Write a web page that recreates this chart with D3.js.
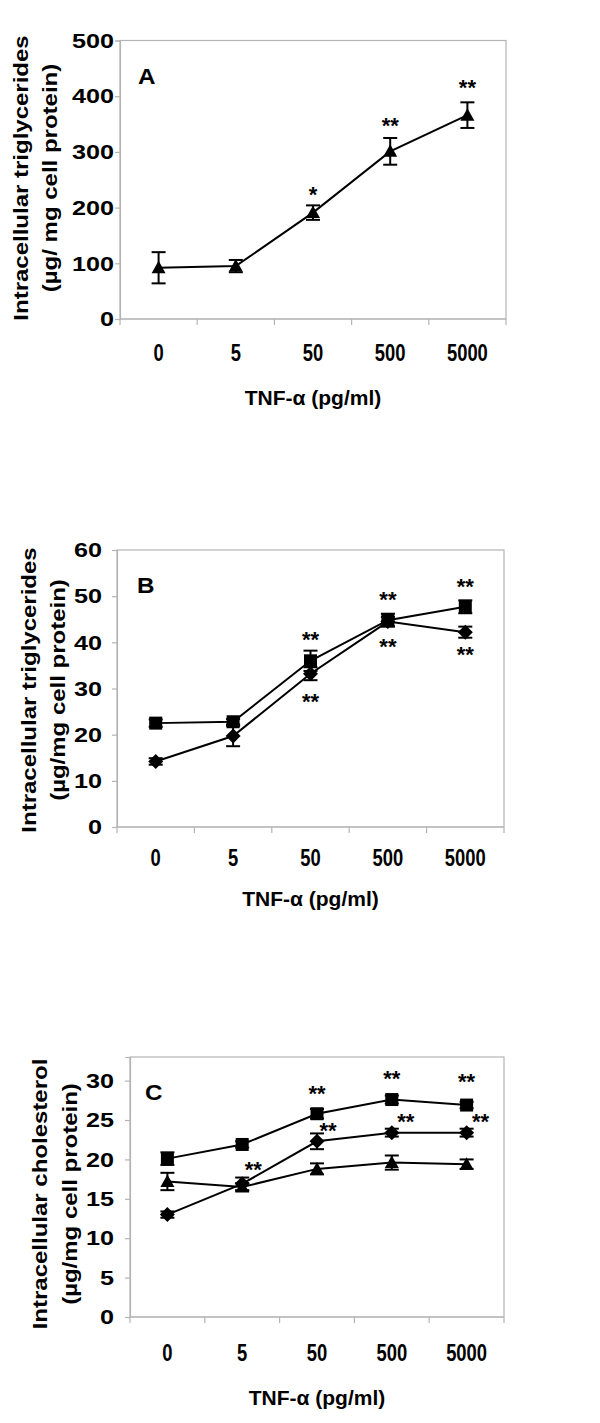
<!DOCTYPE html>
<html>
<head>
<meta charset="utf-8">
<script src="https://cdn.jsdelivr.net/npm/d3@7"></script>
<style>
  html, body { margin: 0; padding: 0; background: #fff; }
  svg { display: block; }
  text { font-family: "Liberation Sans", Arial, sans-serif; font-weight: bold; fill: #000; }
</style>
</head>
<body>
<svg id="chart" width="600" height="1423"></svg>
<script>
// ---------------- DATA ----------------
const categories = ["0", "5", "50", "500", "5000"];

// Panel A: intracellular triglycerides (µg/mg cell protein), triangles
const aTriangle    = [92, 95, 191, 301, 366];
const aTriangleErr = [28, 11, 13, 24, 23];
const aTicks = [0, 100, 200, 300, 400, 500];

// Panel B: intracellular triglycerides, squares and diamonds
const bSquare     = [22.5, 22.8, 36.0, 44.8, 47.7];
const bSquareErr  = [0.8, 0.6, 2.2, 1.4, 1.4];
const bDiamond    = [14.2, 19.7, 33.2, 44.5, 42.2];
const bDiamondErr = [0.7, 2.2, 1.4, 1.0, 1.2];
const bTicks = [0, 10, 20, 30, 40, 50, 60];

// Panel C: intracellular cholesterol, squares, diamonds, triangles
const cSquare      = [20.1, 21.9, 25.8, 27.6, 26.9];
const cSquareErr   = [0.8, 0.4, 0.6, 0.5, 0.4];
const cDiamond     = [13.0, 16.9, 22.3, 23.4, 23.4];
const cDiamondErr  = [0.4, 0.8, 1.0, 0.5, 0.5];
const cTriangle    = [17.2, 16.5, 18.8, 19.6, 19.4];
const cTriangleErr = [1.1, 0.5, 0.7, 0.9, 0.6];
const cTicks = [0, 5, 10, 15, 20, 25, 30];

// Significance marks: [category, value where the mark is centred, horizontal shift, text]
const aStars = [["50", 232, 0, "*"], ["500", 355, 0, "**"], ["5000", 424, 0, "**"]];
const bStars = [["50", 41.6, 0, "**"], ["50", 28.2, 0, "**"], ["500", 50.2, 0, "**"], ["500", 40.1, 0, "**"],
                ["5000", 53.1, 0, "**"], ["5000", 38.3, 0, "**"]];
const cStars = [["50", 28.9, 0, "**"], ["500", 30.8, 0, "**"], ["5000", 30.4, 0, "**"],
                ["5", 19.3, 11, "**"], ["50", 24.2, 11, "**"], ["500", 25.4, 14, "**"], ["5000", 25.4, 14, "**"]];

const xTitle = "TNF-\u03b1 (pg/ml)";

// ---------------- LAYOUT ----------------
const panels = [
  { letter: "A", left: 120, right: 506, top: 40.5, bottom: 319, yMax: 500, ticks: aTicks,
    yLabelGap: 6, xLabelDy: 34, xTitleDy: 78, letterPos: [138, 76],
    yTitle: ["Intracellular triglycerides", "(\u00b5g/ mg cell protein)"], yTitleX: [21, 50], yTitleY: 178,
    series: [{ vals: aTriangle, err: aTriangleErr, shape: "triangle" }], stars: aStars },
  { letter: "B", left: 117, right: 504, top: 550, bottom: 827, yMax: 60, ticks: bTicks,
    yLabelGap: 15, xLabelDy: 31, xTitleDy: 71, letterPos: [137, 585],
    yTitle: ["Intracellular triglycerides", "(\u00b5g/mg cell protein)"], yTitleX: [29, 58], yTitleY: 690,
    series: [{ vals: bDiamond, err: bDiamondErr, shape: "diamond" },
             { vals: bSquare, err: bSquareErr, shape: "square" }], stars: bStars },
  { letter: "C", left: 130, right: 504, top: 1057, bottom: 1317, yMax: 33, ticks: cTicks,
    yLabelGap: 16, xLabelDy: 36, xTitleDy: 80, letterPos: [145, 1092],
    yTitle: ["Intracellular cholesterol", "(\u00b5g/mg cell protein)"], yTitleX: [40, 70], yTitleY: 1194,
    series: [{ vals: cTriangle, err: cTriangleErr, shape: "triangle" },
             { vals: cDiamond, err: cDiamondErr, shape: "diamond" },
             { vals: cSquare, err: cSquareErr, shape: "square" }], stars: cStars }
];

const svg = d3.select("#chart");
const gridGray = "#b4b4b4";

function markerPath(shape) {
  if (shape === "triangle") return "M0,-7L7,5.5L-7,5.5Z";
  if (shape === "square") return "M-6.5,-6.5H6.5V6.5H-6.5Z";
  return "M0,-7.5L7.5,0L0,7.5L-7.5,0Z";
}

panels.forEach(p => {
  const g = svg.append("g");
  const x = d3.scaleBand().domain(categories).range([p.left, p.right]).padding(0);
  const y = d3.scaleLinear().domain([0, p.yMax]).range([p.bottom, p.top]);
  const cx = c => x(c) + x.bandwidth() / 2;

  // plot box
  g.append("rect").attr("x", p.left).attr("y", p.top)
    .attr("width", p.right - p.left).attr("height", p.bottom - p.top)
    .attr("fill", "none").attr("stroke", gridGray).attr("stroke-width", 1.2);

  // y axis ticks
  const yAxis = d3.axisLeft(y).tickValues(p.ticks).tickSize(5).tickFormat("");
  const ya = g.append("g").attr("transform", `translate(${p.left},0)`).call(yAxis);
  ya.select(".domain").attr("stroke", gridGray).attr("stroke-width", 1.2);
  ya.selectAll(".tick line").attr("stroke", gridGray).attr("stroke-width", 1.2);

  // y tick labels
  g.selectAll(".ylab").data(p.ticks).join("text")
    .attr("transform", d => `translate(${p.left - p.yLabelGap},${y(d)}) scale(1.2,1)`)
    .attr("text-anchor", "end").attr("dominant-baseline", "central")
    .attr("font-size", 21).text(d => d);

  // x axis ticks at category boundaries
  const bounds = categories.map(c => x(c)).concat([p.right]);
  g.append("line").attr("x1", p.left).attr("x2", p.right).attr("y1", p.bottom).attr("y2", p.bottom)
    .attr("stroke", gridGray).attr("stroke-width", 1.2);
  g.selectAll(".xt").data(bounds).join("line")
    .attr("x1", d => d).attr("x2", d => d).attr("y1", p.bottom).attr("y2", p.bottom + 6)
    .attr("stroke", gridGray).attr("stroke-width", 1.2);

  // x tick labels
  g.selectAll(".xlab").data(categories).join("text")
    .attr("transform", d => `translate(${cx(d)},${p.bottom + p.xLabelDy}) scale(0.8,1)`)
    .attr("text-anchor", "middle").attr("dominant-baseline", "central")
    .attr("font-size", 23).text(d => d);

  // x title
  g.append("text")
    .attr("x", (p.left + p.right) / 2).attr("y", p.bottom + p.xTitleDy)
    .attr("text-anchor", "middle").attr("dominant-baseline", "central")
    .attr("font-size", 21).text(xTitle);

  // y title (two lines)
  p.yTitle.forEach((t, i) => {
    g.append("text")
      .attr("transform", `translate(${p.yTitleX[i]},${p.yTitleY}) rotate(-90) scale(1.2,1)`)
      .attr("text-anchor", "middle").attr("dominant-baseline", "central")
      .attr("font-size", 20).text(t);
  });

  // panel letter
  g.append("text")
    .attr("transform", `translate(${p.letterPos[0]},${p.letterPos[1]}) scale(1.1,1)`)
    .attr("dominant-baseline", "central").attr("font-size", 22).text(p.letter);

  // series lines
  const line = d3.line().x((d, i) => cx(categories[i])).y(d => y(d));
  p.series.forEach(s => {
    g.append("path").datum(s.vals).attr("d", line)
      .attr("fill", "none").attr("stroke", "#000").attr("stroke-width", 2);
  });

  // error bars
  p.series.forEach(s => {
    const eb = g.append("g");
    s.vals.forEach((v, i) => {
      const c = cx(categories[i]);
      const e = s.err[i];
      eb.append("line").attr("x1", c).attr("x2", c).attr("y1", y(v - e)).attr("y2", y(v + e))
        .attr("stroke", "#000").attr("stroke-width", 2);
      [v - e, v + e].forEach(ev => {
        eb.append("line").attr("x1", c - 7).attr("x2", c + 7).attr("y1", y(ev)).attr("y2", y(ev))
          .attr("stroke", "#000").attr("stroke-width", 2);
      });
    });
  });

  // markers
  p.series.forEach(s => {
    g.selectAll(null).data(s.vals).join("path")
      .attr("transform", (d, i) => `translate(${cx(categories[i])},${y(d)})`)
      .attr("d", markerPath(s.shape)).attr("fill", "#000");
  });

  // stars
  g.selectAll(".star").data(p.stars).join("text")
    .attr("x", d => cx(d[0]) + d[2]).attr("y", d => y(d[1]) + 12)
    .attr("text-anchor", "middle").attr("font-size", 22).text(d => d[3]);
});
</script>
</body>
</html>
